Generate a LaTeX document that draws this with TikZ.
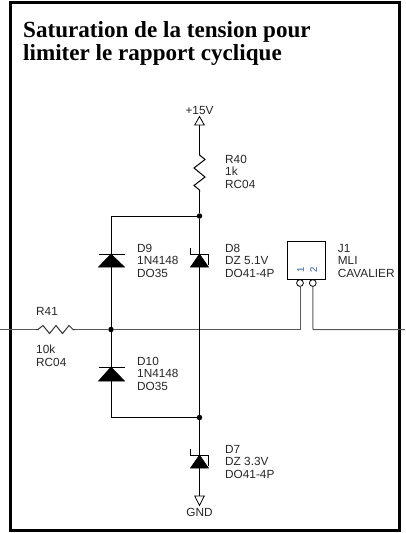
\documentclass[tikz,border=0pt]{standalone}
\usepackage{fontspec}
\setmainfont{Liberation Sans}
\newfontfamily\titlefont{Liberation Serif}
\tikzset{
  wire/.style={line width=1pt,black},
  gwire/.style={line width=1pt,black!65},
  frame/.style={line width=3pt,black},
  lbl/.style={anchor=north west,inner sep=0pt,align=left,font=\fontsize{11.8}{12.4}\selectfont,text=black!85},
  clbl/.style={inner sep=0pt,font=\fontsize{11.8}{12.4}\selectfont,text=black!85},
  pinlbl/.style={inner sep=0pt,rotate=90,font=\fontsize{9.5}{10}\selectfont,text={rgb,255:red,40;green,90;blue,150}},
  ttl/.style={anchor=base west,inner sep=0pt,font=\titlefont\bfseries\fontsize{23.1}{23}\selectfont},
  dot/.style={circle,fill=black,inner sep=0pt,minimum size=5.5pt},
  pin/.style={circle,draw=black,fill=white,line width=0.8pt,inner sep=0pt,minimum size=6.8pt},
  diofill/.style={fill=black,draw=black,line width=0.5pt},
  hollow/.style={draw=black,fill=white,line width=0.8pt},
}
\begin{document}
\begin{tikzpicture}[x=1pt,y=-1pt]
\useasboundingbox (0,0) rectangle (405,533);
\draw[frame] (10.8,2.6) rectangle (399.8,530);
\node[ttl] (t1) at (23,37) {Saturation de la tension pour};
\node[ttl] (t2) at (23,60) {limiter le rapport cyclique};
% coordinates
\coordinate (p15) at (199.5,125);
\coordinate (r40a) at (199.5,153);
\coordinate (r40b) at (199.5,192);
\node[dot] (ntop) at (199.5,216) {};
\coordinate (cornerT) at (111,216);
\coordinate (d9k) at (111,254);
\coordinate (d9a) at (111,267);
\node[dot] (nmid) at (111,329.5) {};
\coordinate (d10k) at (111,367);
\coordinate (d10a) at (111,381);
\coordinate (cornerB) at (111,417.5);
\node[dot] (nbot) at (199.5,417.5) {};
\coordinate (d8k) at (199.5,254);
\coordinate (d8a) at (199.5,267);
\coordinate (d7k) at (199.5,455);
\coordinate (d7a) at (199.5,468);
\coordinate (gndt) at (199.5,496);
\coordinate (leftend) at (0,329.5);
\coordinate (r41a) at (36,329.5);
\coordinate (r41b) at (75,329.5);
\coordinate (jl) at (300,329.5);
\coordinate (jr) at (313,329.5);
\coordinate (rightend) at (405,329.5);
\node[pin] (pin1) at (300,283) {};
\node[pin] (pin2) at (312.8,283) {};
% wires
\draw[gwire] (leftend) -- (r41a);
\draw[gwire] (r41b) -- (nmid);
\draw[gwire] (nmid) -- (jl) -- (pin1);
\draw[gwire] (pin2) -- (jr) -- (rightend);
\draw[wire] (p15) -- (r40a);
\draw[wire] (r40b) -- (ntop);
\draw[wire] (ntop) -- (cornerT) -- (d9k);
\draw[wire] (d9a) -- (nmid);
\draw[wire] (nmid) -- (d10k);
\draw[wire] (d10a) -- (cornerB) -- (nbot);
\draw[wire] (ntop) -- (d8k);
\draw[wire] (d8a) -- (nbot);
\draw[wire] (nbot) -- (d7k);
\draw[wire] (d7a) -- (gndt);
% resistors
\draw[wire,line join=miter] (r40a) -- (199.5,155) -- (205,159.5) -- (194,168) -- (205,177) -- (194,185.5) -- (199.5,190) -- (r40b);
\draw[gwire,black!80,line join=miter] (r41a) -- (38,329.5) -- (43,325.5) -- (49.5,333.5) -- (56,325.5) -- (62.5,333.5) -- (69,325.5) -- (73,329.5) -- (r41b);
% power symbols
\draw[hollow,line join=miter] (p15) -- (194.7,125) -- (199.5,116.5) -- (204.3,125) -- cycle;
\draw[hollow,line join=miter] (gndt) -- (194.7,496) -- (199.5,505.5) -- (204.3,496) -- cycle;
% diodes
\fill[diofill] (d9k) -- (98.5,267) -- (124.5,267) -- cycle;
\draw[wire] (98.5,254) -- (124.5,254);
\fill[diofill] (d10k) -- (98.5,381) -- (124.5,381) -- cycle;
\draw[wire] (98.5,367) -- (124.5,367);
\fill[diofill] (d8k) -- (190.5,267) -- (208.5,267) -- cycle;
\draw[wire] (190.5,248) -- (190.5,254) -- (208.5,254) -- (208.5,265);
\fill[diofill] (d7k) -- (190.5,468) -- (208.5,468) -- cycle;
\draw[wire] (190.5,449) -- (190.5,455) -- (208.5,455) -- (208.5,466);
% connector
\node[draw=black,line width=0.8pt,fill=white,minimum width=38.4pt,minimum height=37.6pt,inner sep=0pt] (j1) at (306.5,260.5) {};
\node[pinlbl] (p1) at (300.5,270) {1};
\node[pinlbl] (p2) at (313.5,270) {2};
% labels
\node[clbl] (vcc) at (199.5,110) {+15V};
\node[clbl] (gnd) at (199.5,512) {GND};
\node[lbl] (lr40) at (225,155) {R40\\1k\\RC04};
\node[lbl] (lr41) at (36,307) {R41};
\node[lbl] (lr41b) at (36,345) {10k\\RC04};
\node[lbl] (ld9) at (137,244) {D9\\1N4148\\DO35};
\node[lbl] (ld10) at (137,357) {D10\\1N4148\\DO35};
\node[lbl] (ld8) at (225,244) {D8\\DZ 5.1V\\DO41-4P};
\node[lbl] (ld7) at (225,445) {D7\\DZ 3.3V\\DO41-4P};
\node[lbl] (lj1) at (337.7,244) {J1\\MLI\\CAVALIER};
\end{tikzpicture}
\end{document}
